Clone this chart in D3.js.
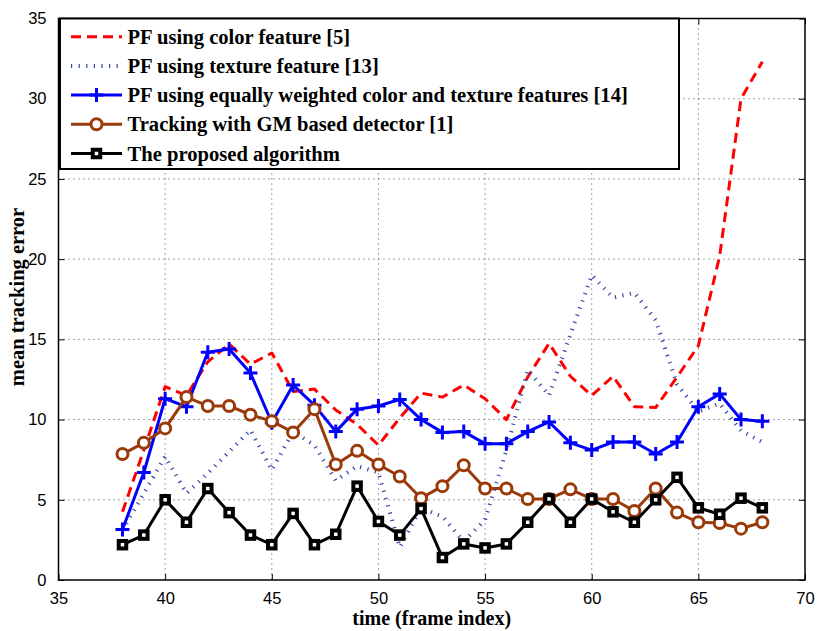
<!DOCTYPE html>
<html>
<head>
<meta charset="utf-8">
<script src="https://cdn.jsdelivr.net/npm/d3@7"></script>
<style>
  html, body { margin: 0; padding: 0; background: #fff; }
  svg { display: block; }
</style>
</head>
<body>
<svg id="chart" width="817" height="631"></svg>
<script>
// ---------- data ----------
const frames = d3.range(38, 69);
const colorPF   = [4.25,8.1,12.05,11.5,13.6,14.7,13.45,14.15,11.75,11.9,10.6,9.7,8.4,10.1,11.65,11.4,12.15,11.3,10.0,12.65,14.75,12.7,11.5,12.7,10.8,10.75,12.65,14.6,20.2,30.0,32.3];
const texturePF = [3.1,5.4,7.7,5.4,6.65,8.0,9.35,6.85,9.25,8.4,6.2,7.1,6.7,2.05,4.5,3.95,2.4,3.75,8.1,13.1,11.5,15.3,19.0,17.6,17.9,16.2,12.2,10.5,11.0,9.3,8.6];
const equalPF   = [3.15,6.7,11.3,10.8,14.2,14.4,12.9,9.8,12.15,10.9,9.25,10.65,10.85,11.25,10.0,9.2,9.25,8.5,8.5,9.25,9.85,8.55,8.1,8.6,8.6,7.85,8.6,10.8,11.6,10.0,9.9];
const gmDetect  = [7.85,8.55,9.45,11.4,10.85,10.85,10.3,9.9,9.2,10.65,7.2,8.05,7.2,6.45,5.1,5.85,7.15,5.7,5.7,5.05,5.05,5.65,5.05,5.05,4.3,5.7,4.2,3.6,3.55,3.2,3.6];
const proposed  = [2.2,2.8,5.0,3.6,5.7,4.2,2.8,2.2,4.15,2.2,2.85,5.85,3.65,2.8,4.45,1.4,2.25,2.0,2.25,3.6,5.05,3.6,5.05,4.25,3.6,5.0,6.4,4.5,4.1,5.1,4.5];
const xTicks = [35,40,45,50,55,60,65,70];
const yTicks = [0,5,10,15,20,25,30,35];
const seriesNames = [
  "PF using color feature [5]",
  "PF using texture feature [13]",
  "PF using equally weighted color and texture features [14]",
  "Tracking with GM based detector [1]",
  "The proposed algorithm"
];
const xLabel = "time (frame index)";
const yLabel = "mean tracking error";

// ---------- layout ----------
const L = 58.5, R = 805, T = 18.5, B = 580;
const svg = d3.select("#chart");
const x = d3.scaleLinear().domain([35, 70]).range([L, R]);
const y = d3.scaleLinear().domain([0, 35]).range([B, T]);

const styles = [
  {key:"red",  color:"#ff0000", width:3,   dash:"10,6", marker:null},
  {key:"tex",  color:"#3346a6", width:4,   dash:"1.2,6.4", marker:null},
  {key:"blue", color:"#0000ff", width:3,   dash:null, marker:"plus"},
  {key:"brown",color:"#9a3a0a", width:3,   dash:null, marker:"circle"},
  {key:"black",color:"#000000", width:3,   dash:null, marker:"square"}
];
const allSeries = [colorPF, texturePF, equalPF, gmDetect, proposed];

// grid
const grid = svg.append("g");
xTicks.slice(1, -1).forEach(t => {
  grid.append("line").attr("x1", x(t)).attr("x2", x(t)).attr("y1", T).attr("y2", B)
    .attr("stroke", "#444").attr("stroke-width", 1).attr("stroke-dasharray", "1,4");
});
yTicks.slice(1, -1).forEach(t => {
  grid.append("line").attr("x1", L).attr("x2", R).attr("y1", y(t)).attr("y2", y(t))
    .attr("stroke", "#444").attr("stroke-width", 1).attr("stroke-dasharray", "1,4");
});

// axes with inward ticks
const axB = d3.axisBottom(x).tickValues(xTicks).tickSize(-6).tickPadding(12).tickFormat(d3.format("d"));
const axL = d3.axisLeft(y).tickValues(yTicks).tickSize(-6).tickPadding(12).tickFormat(d3.format("d"));
const axT = d3.axisTop(x).tickValues(xTicks).tickSize(-6).tickFormat("");
const axR = d3.axisRight(y).tickValues(yTicks).tickSize(-6).tickFormat("");
function styleAxis(g) {
  g.select(".domain").remove();
  g.selectAll("line").attr("stroke", "#000").attr("stroke-width", 1);
  g.selectAll("text").attr("font-family", "'Liberation Sans', Arial, sans-serif").attr("font-size", 16.5).attr("fill", "#000");
}
svg.append("g").attr("transform", `translate(0,${B})`).call(axB).call(styleAxis);
svg.append("g").attr("transform", `translate(${L},0)`).call(axL).call(styleAxis);
svg.append("g").attr("transform", `translate(0,${T})`).call(axT).call(styleAxis);
svg.append("g").attr("transform", `translate(${R},0)`).call(axR).call(styleAxis);

// lines
const line = d3.line().x((d, i) => x(frames[i])).y(d => y(d));
const plotG = svg.append("g");

function drawMarker(g, type, cx, cy, color) {
  if (type === "plus") {
    g.append("path").attr("d", `M${cx-7},${cy}H${cx+7}M${cx},${cy-7}V${cy+7}`)
      .attr("stroke", color).attr("stroke-width", 3).attr("fill", "none");
  } else if (type === "circle") {
    g.append("circle").attr("cx", cx).attr("cy", cy).attr("r", 5.5)
      .attr("fill", "#fff").attr("stroke", color).attr("stroke-width", 3);
  } else if (type === "square") {
    g.append("rect").attr("x", cx-3.75).attr("y", cy-3.75).attr("width", 7.5).attr("height", 7.5)
      .attr("fill", "#fff").attr("stroke", color).attr("stroke-width", 4);
  }
}

allSeries.forEach((vals, si) => {
  const s = styles[si];
  plotG.append("path").datum(vals).attr("d", line)
    .attr("fill", "none").attr("stroke", s.color).attr("stroke-width", s.width)
    .attr("stroke-dasharray", s.dash).attr("stroke-linejoin", "round");
  if (s.marker) {
    const mg = plotG.append("g");
    vals.forEach((v, i) => drawMarker(mg, s.marker, x(frames[i]), y(v), s.color));
  }
});

// frame
svg.append("rect").attr("x", L).attr("y", T).attr("width", R - L).attr("height", B - T)
  .attr("fill", "none").attr("stroke", "#000").attr("stroke-width", 1.5);

// legend
const lg = svg.append("g");
lg.append("rect").attr("x", 60).attr("y", 18.5).attr("width", 619).attr("height", 150.5)
  .attr("fill", "#fff").attr("stroke", "#000").attr("stroke-width", 2);
seriesNames.forEach((name, i) => {
  const s = styles[i];
  const cy = 36.7 + i * 29.2;
  lg.append("line").attr("x1", 71).attr("x2", 122).attr("y1", cy).attr("y2", cy)
    .attr("stroke", s.color).attr("stroke-width", s.width).attr("stroke-dasharray", s.dash);
  if (s.marker) drawMarker(lg, s.marker, 96.5, cy, s.color);
  lg.append("text").attr("x", 127.5).attr("y", cy + 7)
    .attr("font-family", "'Liberation Serif', 'Times New Roman', serif").attr("font-weight", "bold")
    .attr("font-size", 20.6).attr("fill", "#000").text(name);
});

// axis labels
svg.append("text").attr("x", (L + R) / 2).attr("y", 625).attr("text-anchor", "middle")
  .attr("font-family", "'Liberation Serif', 'Times New Roman', serif").attr("font-weight", "bold")
  .attr("font-size", 20).attr("fill", "#000").text(xLabel);
svg.append("text").attr("transform", "translate(24,297) rotate(-90)").attr("text-anchor", "middle")
  .attr("font-family", "'Liberation Serif', 'Times New Roman', serif").attr("font-weight", "bold")
  .attr("font-size", 20.5).attr("fill", "#000").text(yLabel);
</script>
</body>
</html>
